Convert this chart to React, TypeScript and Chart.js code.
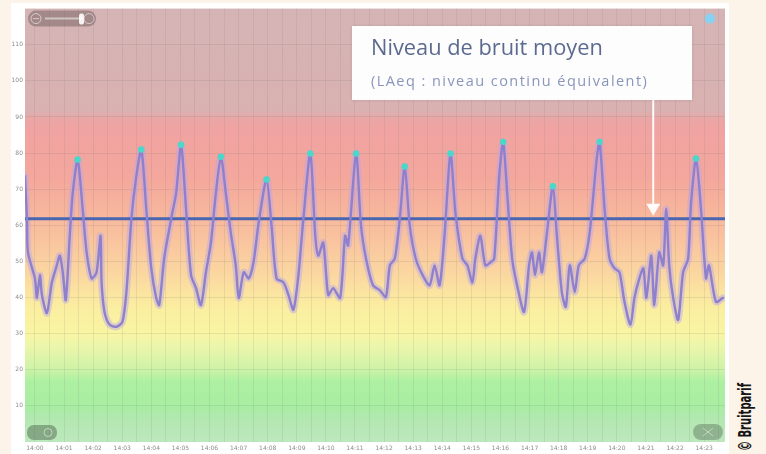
import React, { useEffect, useRef } from "react";
import { Chart, registerables } from "chart.js";

Chart.register(...registerables);

// ---- Data ----
const xTickLabels = [
  "14:00", "14:01", "14:02", "14:03", "14:04", "14:05", "14:06", "14:07",
  "14:08", "14:09", "14:10", "14:11", "14:12", "14:13", "14:14", "14:15",
  "14:16", "14:17", "14:18", "14:19", "14:20", "14:21", "14:22", "14:23",
];
const yTickValues = [10, 20, 30, 40, 50, 60, 70, 80, 90, 100, 110];

// time in seconds since first label
const timeSeconds = [
  -20.5, -16.4, -14.4, 0, 4.1, 10.3, 14.4, 24.6, 34.9, 45.1,
  51.3, 57.4, 63.6, 71.8, 77.9, 88.2, 98.4, 106.6, 116.9, 127.1,
  135.3, 137.4, 143.5, 153.8, 168.1, 180.4, 188.6, 198.9, 209.1, 219.4,
  229.6, 239.9, 250.1, 256.3, 266.5, 280.9, 291.1, 301.4, 311.6, 321.9,
  332.1, 342.4, 352.6, 362.9, 373.1, 383.4, 393.6, 403.9, 414.1, 420.3,
  430.5, 440.8, 451.0, 461.3, 477.7, 487.9, 498.2, 512.5, 522.8, 533.0,
  543.3, 553.5, 567.9, 578.1, 584.3, 594.5, 604.8, 615.0, 629.4, 639.6,
  645.8, 662.2, 672.4, 682.7, 697.0, 711.4, 723.7, 731.9, 742.1, 752.4,
  762.6, 772.9, 785.2, 799.5, 813.9, 824.1, 834.4, 844.6, 856.9, 867.2,
  881.5, 891.8, 902.0, 908.2, 918.4, 928.7, 938.9, 947.1, 957.4, 965.6,
  973.8, 984.0, 994.3, 1008.6, 1018.9, 1025.0, 1031.2, 1039.4, 1045.5, 1055.8,
  1068.1, 1076.3, 1086.5, 1094.7, 1102.9, 1113.2, 1121.4, 1133.7, 1143.9, 1158.3,
  1164.4, 1174.7, 1184.9, 1195.2, 1205.4, 1215.7, 1228.0, 1236.2, 1246.4, 1254.6,
  1260.8, 1271.0, 1277.2, 1287.4, 1295.6, 1301.8, 1307.9, 1316.1, 1326.4, 1336.6,
  1346.9, 1353.0, 1363.3, 1373.5, 1383.8, 1389.9, 1404.3, 1418.6,
];

// sound level in dB(A)
const levelsDb = [
  73.6, 61.8, 52.5, 45.3, 39.9, 46.2, 40.7, 35.7, 44.2, 48.9,
  51.6, 47.0, 39.3, 57.1, 68.9, 78.2, 64.5, 52.5, 45.3, 47.0,
  57.1, 44.2, 36.0, 32.5, 31.9, 33.3, 41.5, 61.8, 73.6, 81.0,
  64.5, 48.1, 39.9, 37.9, 50.8, 61.8, 68.9, 82.3, 64.5, 46.2,
  42.6, 37.9, 47.0, 55.2, 68.9, 79.0, 68.9, 57.9, 48.9, 39.9,
  47.0, 45.3, 50.0, 60.7, 72.7, 59.9, 45.3, 44.2, 40.7, 36.6,
  46.2, 61.8, 79.9, 57.1, 51.6, 55.2, 40.7, 42.6, 39.9, 57.1,
  54.4, 79.9, 59.9, 50.8, 43.4, 42.0, 40.1, 48.9, 50.8, 61.8,
  76.3, 59.9, 50.8, 46.2, 43.4, 48.9, 43.4, 57.1, 79.9, 63.4,
  50.8, 48.9, 44.2, 50.8, 57.1, 48.9, 49.7, 50.8, 73.6, 83.1,
  68.9, 50.8, 43.4, 36.0, 48.9, 52.5, 46.2, 52.5, 47.0, 57.9,
  70.8, 57.1, 41.5, 37.4, 48.9, 41.5, 48.9, 50.8, 57.9, 78.2,
  83.1, 64.5, 50.8, 48.1, 47.0, 38.8, 32.5, 39.9, 45.3, 48.1,
  39.9, 51.6, 37.9, 52.5, 48.9, 64.5, 48.9, 39.9, 33.8, 47.0,
  50.8, 66.2, 78.5, 64.5, 45.3, 48.9, 38.8, 39.9,
];

// indices of the marked peaks
const peakIndices = [15, 29, 37, 45, 54, 62, 71, 80, 88, 99, 110, 120, 142];

const meanLevel = 61.8; // LAeq
const arrowTime = 1275; // where the annotation arrow points (seconds)

const X_MIN = -20.5;
const X_MAX = 1423;
const Y_MIN = 0;
const Y_MAX = 120;

// ---- Plugins ----
const backgroundPlugin = {
  id: "noiseBackground",
  beforeDraw(chart: any) {
    const { ctx, chartArea } = chart;
    if (!chartArea) return;
    const { left, top, right, bottom } = chartArea;
    const h = bottom - top;
    const g = ctx.createLinearGradient(0, top, 0, bottom);
    const stops: [number, string][] = [
      [0, "#d5b4b5"],
      [0.235, "#d9b1b1"],
      [0.255, "#eaa6a5"],
      [0.28, "#f0a3a1"],
      [0.39, "#f4a79c"],
      [0.46, "#f7b49c"],
      [0.54, "#f9c59f"],
      [0.62, "#fbd9a0"],
      [0.69, "#fbeea0"],
      [0.75, "#f8f5a3"],
      [0.775, "#edf6aa"],
      [0.83, "#cff3a7"],
      [0.86, "#aef0a2"],
      [0.92, "#a8eda2"],
      [0.945, "#b2e8b0"],
      [1, "#bde8bd"],
    ];
    stops.forEach(([o, c]) => g.addColorStop(o, c));
    ctx.save();
    ctx.fillStyle = g;
    ctx.fillRect(left, top, right - left, h);
    ctx.restore();
  },
};

const arrowPlugin = {
  id: "annotationArrow",
  afterDatasetsDraw(chart: any) {
    const { ctx, chartArea, scales } = chart;
    const x = scales.x.getPixelForValue(arrowTime);
    const tip = scales.y.getPixelForValue(meanLevel) - 3;
    ctx.save();
    ctx.strokeStyle = "rgba(255,255,255,0.95)";
    ctx.fillStyle = "rgba(255,255,255,0.95)";
    ctx.lineWidth = 2;
    ctx.beginPath();
    ctx.moveTo(x, chartArea.top + 90);
    ctx.lineTo(x, tip - 10);
    ctx.stroke();
    ctx.beginPath();
    ctx.moveTo(x - 7, tip - 12);
    ctx.lineTo(x + 7, tip - 12);
    ctx.lineTo(x, tip);
    ctx.closePath();
    ctx.fill();
    ctx.restore();
  },
};

const widgetsPlugin = {
  id: "widgets",
  afterDraw(chart: any) {
    const { ctx, chartArea } = chart;
    const { left, top, right, bottom } = chartArea;
    ctx.save();
    // top-left zoom slider
    ctx.fillStyle = "rgba(105,85,85,0.45)";
    ctx.beginPath();
    ctx.roundRect(left + 3, top + 2, 68, 16, 8);
    ctx.fill();
    ctx.strokeStyle = "rgba(255,255,255,0.55)";
    ctx.lineWidth = 1;
    ctx.beginPath();
    ctx.arc(left + 11, top + 10, 5, 0, Math.PI * 2);
    ctx.stroke();
    ctx.beginPath();
    ctx.moveTo(left + 8, top + 10);
    ctx.lineTo(left + 14, top + 10);
    ctx.stroke();
    ctx.strokeStyle = "rgba(255,255,255,0.5)";
    ctx.lineWidth = 2;
    ctx.beginPath();
    ctx.moveTo(left + 20, top + 10);
    ctx.lineTo(left + 58, top + 10);
    ctx.stroke();
    ctx.fillStyle = "rgba(255,255,255,0.9)";
    ctx.beginPath();
    ctx.roundRect(left + 54, top + 5, 5, 11, 2);
    ctx.fill();
    ctx.strokeStyle = "rgba(255,255,255,0.5)";
    ctx.lineWidth = 1;
    ctx.beginPath();
    ctx.arc(left + 64, top + 10, 5, 0, Math.PI * 2);
    ctx.stroke();
    // top-right dot
    ctx.fillStyle = "#86d2f2";
    ctx.beginPath();
    ctx.arc(right - 15, top + 10, 5, 0, Math.PI * 2);
    ctx.fill();
    // bottom-left badge
    ctx.fillStyle = "rgba(80,105,80,0.5)";
    ctx.beginPath();
    ctx.roundRect(left + 2, bottom - 17, 30, 15, 7);
    ctx.fill();
    ctx.strokeStyle = "rgba(255,255,255,0.5)";
    ctx.beginPath();
    ctx.arc(left + 23, bottom - 9.5, 4, 0, Math.PI * 2);
    ctx.stroke();
    // bottom-right badge
    ctx.fillStyle = "rgba(90,115,90,0.45)";
    ctx.beginPath();
    ctx.roundRect(right - 32, bottom - 18, 30, 16, 8);
    ctx.fill();
    ctx.strokeStyle = "rgba(255,255,255,0.45)";
    ctx.beginPath();
    ctx.moveTo(right - 22, bottom - 14);
    ctx.lineTo(right - 12, bottom - 6);
    ctx.moveTo(right - 12, bottom - 14);
    ctx.lineTo(right - 22, bottom - 6);
    ctx.stroke();
    ctx.restore();
  },
};

export default function App() {
  const ref = useRef<HTMLCanvasElement>(null);

  useEffect(() => {
    const canvas = ref.current;
    if (!canvas) return;
    const points = timeSeconds.map((t, i) => ({ x: t, y: levelsDb[i] }));
    const peaks = peakIndices.map((i) => ({ x: timeSeconds[i], y: levelsDb[i] }));
    const xTicks: { value: number }[] = [];
    xTickLabels.forEach((_, i) => {
      xTicks.push({ value: i * 60 });
      xTicks.push({ value: i * 60 + 30 });
    });

    const chart = new Chart(canvas, {
      type: "line",
      data: {
        datasets: [
          {
            label: "Pics",
            data: peaks,
            showLine: false,
            pointRadius: 3.2,
            pointBackgroundColor: "#4ad8c8",
            pointBorderWidth: 0,
            order: 0,
          },
          {
            label: "Niveau",
            data: points,
            borderColor: "#8e80cc",
            borderWidth: 2.4,
            pointRadius: 0,
            tension: 0.25,
            borderJoinStyle: "round",
            borderCapStyle: "round",
            order: 1,
          },
          {
            label: "LAeq",
            data: [
              { x: X_MIN, y: meanLevel },
              { x: X_MAX, y: meanLevel },
            ],
            borderColor: "#4a66b0",
            borderWidth: 3,
            pointRadius: 0,
            order: 2,
          },
          {
            label: "halo",
            data: points,
            borderColor: "rgba(185,165,236,0.45)",
            borderWidth: 7,
            pointRadius: 0,
            tension: 0.25,
            borderJoinStyle: "round",
            borderCapStyle: "round",
            order: 3,
          },
        ],
      } as any,
      options: {
        animation: false,
        responsive: false,
        devicePixelRatio: 1,
        layout: { padding: { top: 4, left: 0, right: 0, bottom: 0 } },
        plugins: { legend: { display: false }, tooltip: { enabled: false } },
        scales: {
          x: {
            type: "linear",
            min: X_MIN,
            max: X_MAX,
            afterBuildTicks: (s: any) => {
              s.ticks = xTicks.map((t) => ({ ...t }));
            },
            afterFit: (s: any) => {
              s.height = 12;
            },
            ticks: {
              autoSkip: false,
              maxRotation: 0,
              padding: 3,
              color: "#8c8c8c",
              font: { size: 6, family: "DejaVu Sans" },
              callback: (v: any) => {
                const n = Number(v);
                return n % 60 === 0 ? xTickLabels[n / 60] ?? "" : "";
              },
            },
            grid: { color: "rgba(110,110,110,0.12)", drawTicks: false },
            border: { display: false },
          },
          y: {
            min: Y_MIN,
            max: Y_MAX,
            afterBuildTicks: (s: any) => {
              s.ticks = yTickValues.map((v) => ({ value: v }));
            },
            afterFit: (s: any) => {
              s.width = 14;
            },
            ticks: {
              padding: 2,
              color: "#8c8c8c",
              font: { size: 6, family: "DejaVu Sans" },
            },
            grid: { color: "rgba(110,110,110,0.14)", drawTicks: false },
            border: { display: false },
          },
        },
      } as any,
      plugins: [backgroundPlugin, arrowPlugin, widgetsPlugin],
    });
    return () => chart.destroy();
  }, []);

  return (
    <div
      style={{
        position: "absolute",
        left: 0,
        top: 0,
        width: 766,
        height: 454,
        background: "#fcf3e9",
        overflow: "hidden",
      }}
    >
      <div
        style={{
          position: "absolute",
          left: 11,
          top: 3,
          width: 718,
          height: 451,
          background: "#ffffff",
        }}
      >
        <canvas
          ref={ref}
          width={718}
          height={451}
          style={{ display: "block", width: 718, height: 451 }}
        />
      </div>
      <div
        style={{
          position: "absolute",
          left: 352,
          top: 26,
          width: 340,
          height: 74,
          background: "rgba(255,255,255,0.97)",
          boxShadow: "0 0 3px rgba(0,0,0,0.12)",
          fontFamily: "'Open Sans', Lato, sans-serif",
        }}
      >
        <div
          style={{
            position: "absolute",
            left: 19,
            top: 7,
            fontSize: 21.8,
            fontWeight: 500,
            lineHeight: "28px",
            color: "#5b6b90",
            whiteSpace: "nowrap",
          }}
        >
          Niveau de bruit moyen
        </div>
        <div
          style={{
            position: "absolute",
            left: 19,
            top: 45,
            fontSize: 14.5,
            lineHeight: "20px",
            letterSpacing: 1.45,
            color: "#8796ba",
            whiteSpace: "nowrap",
          }}
        >
          (LAeq : niveau continu équivalent)
        </div>
      </div>
      <div
        style={{
          position: "absolute",
          left: 745,
          top: 417,
          transform: "translate(-50%, -50%) rotate(-90deg) scaleX(0.59)",
          fontFamily: "'DejaVu Sans', sans-serif",
          fontWeight: 700,
          fontSize: 17,
          color: "#151515",
          whiteSpace: "nowrap",
        }}
      >
        © Bruitparif
      </div>
    </div>
  );
}
